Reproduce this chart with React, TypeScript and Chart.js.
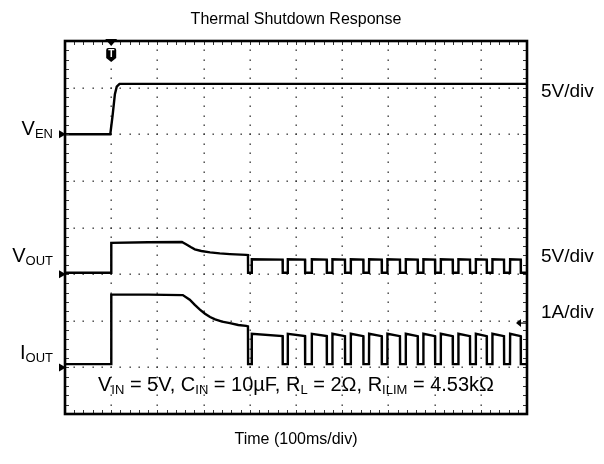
import React, { useEffect, useRef } from "react";
import { Chart, registerables } from "chart.js";

Chart.register(...registerables);

// ---------- text ----------
const TITLE = "Thermal Shutdown Response";
const X_TITLE = "Time (100ms/div)";
const RIGHT_LABELS = ["5V/div", "5V/div", "1A/div"];

// ---------- scope geometry (divisions) ----------
const X_DIVS = 10;
const Y_DIVS = 8;
const MS_PER_DIV = 100;
const TRIGGER_MS = 100;

// channel ground offsets (in divisions from bottom) and scale per division
const VEN_OFFSET_DIV = 6;
const VOUT_OFFSET_DIV = 3;
const IOUT_OFFSET_DIV = 1;
const VEN_PER_DIV = 5; // V/div
const VOUT_PER_DIV = 5; // V/div
const IOUT_PER_DIV = 1; // A/div
const TRIGGER_LEVEL_A = 0.95;

// ---------- V_EN (V) ----------
const venTimeMs = [0, 98, 103, 108, 112, 118, 1000];
const venVolts = [0, 0, 2.0, 4.3, 5.1, 5.4, 5.4];

// ---------- V_OUT (V), before the hiccup pulses ----------
const voutTimeMs = [0, 99.6, 100.2, 180, 253, 262, 272, 281, 295, 314, 335, 357, 392, 396];
const voutVolts = [0.15, 0.15, 3.35, 3.42, 3.45, 3.2, 2.9, 2.66, 2.48, 2.33, 2.22, 2.15, 2.07, 2.05];

// ---------- I_OUT (A), before the hiccup pulses ----------
const ioutTimeMs = [0, 99.6, 100.2, 180, 255, 270, 281, 292, 303, 314, 325, 340, 357, 375, 392, 396];
const ioutAmps = [0.07, 0.07, 1.56, 1.56, 1.55, 1.45, 1.34, 1.24, 1.15, 1.08, 1.03, 0.98, 0.95, 0.91, 0.89, 0.88];

// ---------- hiccup (thermal cycling) pulses ----------
const pulseOffStartMs = [396, 471, 519.5, 566.5, 606, 645.7, 685.5, 725, 763.4, 800.9, 839.2, 876.6, 912.8, 950.2, 986.4];
const pulseOffEndMs = [404, 482, 534, 578.6, 618.4, 658, 697.6, 737.4, 775.5, 813.2, 851.3, 889, 924.9, 963.2, 1000];
const voutOffVolts = 0.15;
const voutOnVolts = [1.6, 1.56];
const ioutOffAmps = 0.07;
const ioutOnAmps = [0.72, 0.67];

type Pt = { x: number; y: number };

function buildTrace(
  t: number[],
  v: number[],
  offset: number,
  perDiv: number,
  offLevel?: number,
  onLevels?: number[]
): Pt[] {
  const pts: Pt[] = t.map((tt, i) => ({ x: tt, y: offset + v[i] / perDiv }));
  if (offLevel === undefined || !onLevels) return pts;
  for (let i = 0; i < pulseOffStartMs.length; i++) {
    const s = pulseOffStartMs[i];
    const e = pulseOffEndMs[i];
    pts.push({ x: s + 0.3, y: offset + offLevel / perDiv });
    pts.push({ x: e, y: offset + offLevel / perDiv });
    if (i + 1 < pulseOffStartMs.length) {
      const ns = pulseOffStartMs[i + 1];
      pts.push({ x: e + 0.3, y: offset + onLevels[0] / perDiv });
      pts.push({ x: ns, y: offset + onLevels[1] / perDiv });
    }
  }
  return pts;
}

const FONT = "'Liberation Sans', Arial, Helvetica, sans-serif";

function drawSubLabel(
  ctx: CanvasRenderingContext2D,
  main: string,
  sub: string,
  rightX: number,
  baseY: number,
  mainSize: number,
  subSize: number
) {
  ctx.font = `${mainSize}px ${FONT}`;
  const wm = ctx.measureText(main).width;
  ctx.font = `${subSize}px ${FONT}`;
  const ws = ctx.measureText(sub).width;
  const x0 = rightX - wm - ws;
  ctx.textAlign = "left";
  ctx.textBaseline = "alphabetic";
  ctx.font = `${mainSize}px ${FONT}`;
  ctx.fillText(main, x0, baseY);
  ctx.font = `${subSize}px ${FONT}`;
  ctx.fillText(sub, x0 + wm, baseY + 3);
}

// rich text pieces: [text, isSub]
const NOTE: [string, boolean][] = [
  ["V", false], ["IN", true], [" = 5V, C", false], ["IN", true], [" = 10\u00b5F, R", false],
  ["L", true], [" = 2\u03a9, R", false], ["ILIM", true], [" = 4.53k\u03a9", false],
];

const scopePlugin = {
  id: "scopeDecor",
  beforeDatasetsDraw(chart: any) {
    const { ctx, scales } = chart;
    const x = scales.x;
    const y = scales.y;
    ctx.save();
    ctx.fillStyle = "#333";
    for (let k = 1; k < X_DIVS; k++) {
      const px = Math.round(x.getPixelForValue(k * MS_PER_DIV));
      for (let m = 1; m < Y_DIVS * 5; m++) {
        const py = Math.round(y.getPixelForValue(m / 5));
        ctx.fillRect(px - 0.5, py - 0.5, 1.4, 1.4);
      }
    }
    for (let k = 1; k < Y_DIVS; k++) {
      const py = Math.round(y.getPixelForValue(k));
      for (let m = 1; m < X_DIVS * 5; m++) {
        const px = Math.round(x.getPixelForValue((m * MS_PER_DIV) / 5));
        ctx.fillRect(px - 0.5, py - 0.5, 1.4, 1.4);
      }
    }
    ctx.restore();
  },
  afterDatasetsDraw(chart: any) {
    const { ctx, chartArea: a, scales } = chart;
    const x = scales.x;
    const y = scales.y;
    ctx.save();
    // minor ticks on the frame
    ctx.strokeStyle = "#333";
    ctx.lineWidth = 1;
    ctx.beginPath();
    for (let m = 1; m < X_DIVS * 5; m++) {
      const px = Math.round(x.getPixelForValue((m * MS_PER_DIV) / 5)) + 0.5;
      ctx.moveTo(px, a.top);
      ctx.lineTo(px, a.top + 4);
      ctx.moveTo(px, a.bottom);
      ctx.lineTo(px, a.bottom - 4);
    }
    for (let m = 1; m < Y_DIVS * 5; m++) {
      const py = Math.round(y.getPixelForValue(m / 5)) + 0.5;
      ctx.moveTo(a.left, py);
      ctx.lineTo(a.left + 4, py);
      ctx.moveTo(a.right, py);
      ctx.lineTo(a.right - 4, py);
    }
    ctx.stroke();
    // frame
    ctx.strokeStyle = "#000";
    ctx.lineWidth = 2.6;
    ctx.strokeRect(a.left, a.top, a.right - a.left, a.bottom - a.top);

    ctx.fillStyle = "#000";
    // ground markers on the left
    [VEN_OFFSET_DIV, VOUT_OFFSET_DIV, IOUT_OFFSET_DIV].forEach((d) => {
      const py = y.getPixelForValue(d);
      ctx.beginPath();
      ctx.moveTo(a.left - 6, py - 4);
      ctx.lineTo(a.left + 1, py);
      ctx.lineTo(a.left - 6, py + 4);
      ctx.closePath();
      ctx.fill();
    });
    // trigger position marker at top
    const tx = x.getPixelForValue(TRIGGER_MS);
    ctx.beginPath();
    ctx.moveTo(tx - 6, a.top - 2);
    ctx.lineTo(tx + 6, a.top - 2);
    ctx.lineTo(tx, a.top + 5);
    ctx.closePath();
    ctx.fill();
    ctx.beginPath();
    ctx.moveTo(tx - 5, a.top + 9);
    ctx.quadraticCurveTo(tx - 5, a.top + 7, tx - 3, a.top + 7);
    ctx.lineTo(tx + 3, a.top + 7);
    ctx.quadraticCurveTo(tx + 5, a.top + 7, tx + 5, a.top + 9);
    ctx.lineTo(tx + 5, a.top + 17);
    ctx.lineTo(tx, a.top + 21);
    ctx.lineTo(tx - 5, a.top + 17);
    ctx.closePath();
    ctx.fill();
    ctx.fillStyle = "#fff";
    ctx.font = `bold 10px ${FONT}`;
    ctx.textAlign = "center";
    ctx.textBaseline = "middle";
    ctx.fillText("T", tx, a.top + 13);
    // trigger level marker at right
    ctx.fillStyle = "#000";
    const ly = y.getPixelForValue(IOUT_OFFSET_DIV + TRIGGER_LEVEL_A / IOUT_PER_DIV);
    ctx.beginPath();
    ctx.moveTo(a.right - 11, ly);
    ctx.lineTo(a.right - 6, ly - 4);
    ctx.lineTo(a.right - 6, ly + 4);
    ctx.closePath();
    ctx.fill();
    ctx.lineWidth = 1.2;
    ctx.strokeStyle = "#000";
    ctx.beginPath();
    ctx.moveTo(a.right - 6, ly);
    ctx.lineTo(a.right, ly);
    ctx.stroke();

    // texts
    const cx = (a.left + a.right) / 2;
    ctx.fillStyle = "#000";
    ctx.textAlign = "center";
    ctx.textBaseline = "middle";
    ctx.font = `16px ${FONT}`;
    ctx.fillText(TITLE, cx, 20);
    ctx.fillText(X_TITLE, cx, 440);

    ctx.textAlign = "left";
    ctx.font = `19px ${FONT}`;
    const rightY = [92, 257, 313];
    RIGHT_LABELS.forEach((t, i) => ctx.fillText(t, a.right + 14, rightY[i]));

    drawSubLabel(ctx, "V", "EN", 53, 135, 20, 13);
    drawSubLabel(ctx, "V", "OUT", 53, 262, 20, 13);
    drawSubLabel(ctx, "I", "OUT", 53, 359, 20, 13);

    // note
    let total = 0;
    NOTE.forEach(([t, sub]) => {
      ctx.font = `${sub ? 13 : 20}px ${FONT}`;
      total += ctx.measureText(t).width;
    });
    let nx = cx - total / 2;
    ctx.textBaseline = "alphabetic";
    NOTE.forEach(([t, sub]) => {
      ctx.font = `${sub ? 13 : 20}px ${FONT}`;
      ctx.fillText(t, nx, sub ? 394 : 391);
      nx += ctx.measureText(t).width;
    });
    ctx.restore();
  },
};

export default function App() {
  const ref = useRef<HTMLCanvasElement>(null);
  useEffect(() => {
    if (!ref.current) return;
    const lineDs = (data: Pt[]) => ({
      data,
      borderColor: "#000",
      borderWidth: 2.4,
      pointRadius: 0,
      tension: 0,
      fill: false,
    });
    const chart = new Chart(ref.current, {
      type: "line",
      data: {
        datasets: [
          lineDs(buildTrace(venTimeMs, venVolts, VEN_OFFSET_DIV, VEN_PER_DIV)),
          lineDs(buildTrace(voutTimeMs, voutVolts, VOUT_OFFSET_DIV, VOUT_PER_DIV, voutOffVolts, voutOnVolts)),
          lineDs(buildTrace(ioutTimeMs, ioutAmps, IOUT_OFFSET_DIV, IOUT_PER_DIV, ioutOffAmps, ioutOnAmps)),
        ],
      },
      options: {
        animation: false,
        responsive: false,
        devicePixelRatio: 1,
        layout: { padding: { left: 65, right: 77, top: 41, bottom: 50 } },
        plugins: { legend: { display: false }, tooltip: { enabled: false }, title: { display: false } },
        scales: {
          x: { type: "linear", min: 0, max: X_DIVS * MS_PER_DIV, display: false },
          y: { type: "linear", min: 0, max: Y_DIVS, display: false },
        },
      },
      plugins: [scopePlugin],
    });
    return () => chart.destroy();
  }, []);
  return (
    <div style={{ position: "fixed", left: 0, top: 0, width: 604, height: 464, background: "#fff" }}>
      <canvas ref={ref} width={604} height={464} style={{ display: "block" }} />
    </div>
  );
}
